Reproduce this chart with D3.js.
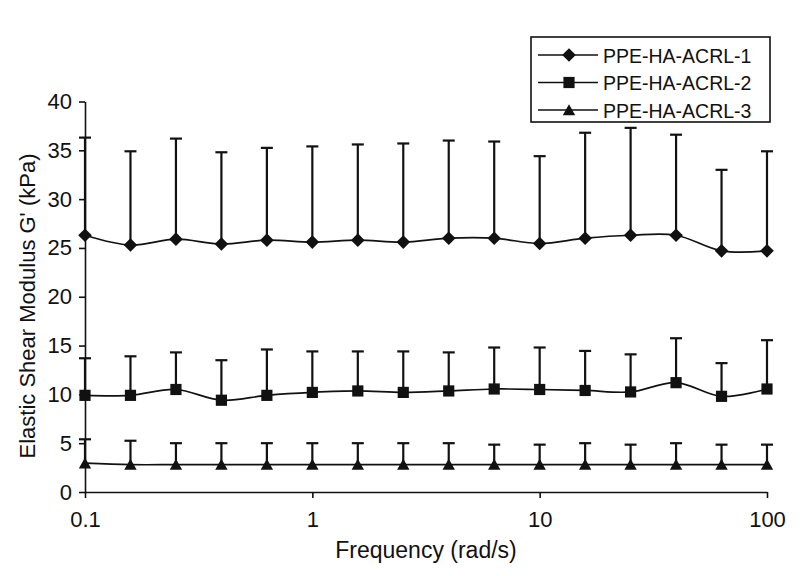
<!DOCTYPE html>
<html>
<head>
<meta charset="utf-8">
<script src="https://cdn.jsdelivr.net/npm/d3@7/dist/d3.min.js"></script>
<style>
  html, body { margin: 0; padding: 0; background: #fff; }
  svg { display: block; font-family: "Liberation Sans", Arial, sans-serif; }
</style>
</head>
<body>
<svg id="chart" width="800" height="576"></svg>
<script>
// ---- data ----
const frequencies = [0.1, 0.1585, 0.2512, 0.3981, 0.631, 1, 1.585, 2.512, 3.981, 6.31, 10, 15.85, 25.12, 39.81, 63.1, 100];
const seriesNames = ["PPE-HA-ACRL-1", "PPE-HA-ACRL-2", "PPE-HA-ACRL-3"];
const acrl1 = [26.3, 25.3, 25.9, 25.4, 25.8, 25.6, 25.8, 25.6, 26.0, 26.0, 25.45, 26.0, 26.3, 26.3, 24.7, 24.7];
const acrl1Err = [10.0, 9.6, 10.3, 9.4, 9.45, 9.8, 9.8, 10.1, 10.0, 9.9, 8.95, 10.8, 11.0, 10.3, 8.3, 10.2];
const acrl2 = [9.9, 9.9, 10.5, 9.4, 9.9, 10.2, 10.35, 10.2, 10.35, 10.55, 10.5, 10.4, 10.25, 11.2, 9.8, 10.55];
const acrl2Err = [3.8, 4.0, 3.8, 4.1, 4.7, 4.2, 4.05, 4.2, 3.95, 4.25, 4.3, 4.05, 3.85, 4.55, 3.4, 5.0];
const acrl3 = [2.95, 2.8, 2.8, 2.8, 2.8, 2.8, 2.8, 2.8, 2.8, 2.8, 2.8, 2.8, 2.8, 2.8, 2.8, 2.8];
const acrl3Err = [2.45, 2.45, 2.2, 2.2, 2.2, 2.2, 2.2, 2.2, 2.2, 2.05, 2.05, 2.2, 2.05, 2.2, 2.05, 2.05];
const xTickValues = [0.1, 1, 10, 100];
const xTickLabels = ["0.1", "1", "10", "100"];
const yTickValues = [0, 5, 10, 15, 20, 25, 30, 35, 40];
const markerTypes = ["diamond", "square", "triangle"];

const series = [
  { name: seriesNames[0], values: acrl1, errs: acrl1Err, marker: markerTypes[0] },
  { name: seriesNames[1], values: acrl2, errs: acrl2Err, marker: markerTypes[1] },
  { name: seriesNames[2], values: acrl3, errs: acrl3Err, marker: markerTypes[2] }
];

// ---- layout ----
const svg = d3.select("#chart");
const x = d3.scaleLog().domain([0.1, 100]).range([85, 767]);
const y = d3.scaleLinear().domain([0, 40]).range([492, 101.5]);
const ink = "#111";

function markerPath(type) {
  if (type === "diamond") return "M0,-6.8L6.8,0L0,6.8L-6.8,0Z";
  if (type === "square") return "M-5.6,-5.6H5.6V5.6H-5.6Z";
  return "M0,-5.8L6.2,5.2L-6.2,5.2Z";
}

// axes
const yAxis = svg.append("g")
  .attr("transform", `translate(${x(0.1)},0)`)
  .call(d3.axisLeft(y).tickValues(yTickValues).tickSize(6).tickSizeOuter(0).tickPadding(7));
const xAxis = svg.append("g")
  .attr("transform", `translate(0,${y(0)})`)
  .call(d3.axisBottom(x).tickValues(xTickValues).tickFormat((d, i) => xTickLabels[i])
    .tickSize(6).tickSizeOuter(0).tickPadding(13));
[yAxis, xAxis].forEach(g => {
  g.select(".domain").attr("stroke", ink).attr("stroke-width", 1.6);
  g.selectAll(".tick line").attr("stroke", ink).attr("stroke-width", 1.6);
  g.selectAll(".tick text").attr("fill", ink).style("font-size", "22px");
});

// axis titles
svg.append("text")
  .attr("x", x(Math.sqrt(10)))
  .attr("y", 558)
  .attr("text-anchor", "middle")
  .attr("fill", ink)
  .style("font-size", "23px")
  .text("Frequency (rad/s)");
svg.append("text")
  .attr("transform", "translate(35,306) rotate(-90)")
  .attr("text-anchor", "middle")
  .attr("fill", ink)
  .style("font-size", "22px")
  .text("Elastic Shear Modulus G' (kPa)");

// series
const line = d3.line()
  .x((d, i) => x(frequencies[i]))
  .y(d => y(d))
  .curve(d3.curveCardinal.tension(0));

series.forEach(s => {
  const g = svg.append("g");
  g.append("path")
    .attr("d", line(s.values))
    .attr("fill", "none")
    .attr("stroke", ink)
    .attr("stroke-width", 1.7);
  const eb = g.selectAll(".eb").data(s.values).enter().append("g");
  eb.append("line")
    .attr("x1", (d, i) => x(frequencies[i]))
    .attr("x2", (d, i) => x(frequencies[i]))
    .attr("y1", d => y(d))
    .attr("y2", (d, i) => y(d + s.errs[i]))
    .attr("stroke", ink).attr("stroke-width", 2.2);
  eb.append("line")
    .attr("x1", (d, i) => x(frequencies[i]) - 6)
    .attr("x2", (d, i) => x(frequencies[i]) + 6)
    .attr("y1", (d, i) => y(d + s.errs[i]))
    .attr("y2", (d, i) => y(d + s.errs[i]))
    .attr("stroke", ink).attr("stroke-width", 2.2);
  g.selectAll(".mk").data(s.values).enter().append("path")
    .attr("transform", (d, i) => `translate(${x(frequencies[i])},${y(d)})`)
    .attr("d", markerPath(s.marker))
    .attr("fill", ink);
});

// legend
const legend = svg.append("g");
legend.append("rect")
  .attr("x", 531).attr("y", 37).attr("width", 239).attr("height", 85)
  .attr("fill", "#fff").attr("stroke", ink).attr("stroke-width", 1.6);
const rowY = [55, 82.5, 110];
series.forEach((s, i) => {
  legend.append("line")
    .attr("x1", 538).attr("x2", 598).attr("y1", rowY[i]).attr("y2", rowY[i])
    .attr("stroke", ink).attr("stroke-width", 1.7);
  legend.append("path")
    .attr("transform", `translate(569,${rowY[i]})`)
    .attr("d", markerPath(s.marker))
    .attr("fill", ink);
  legend.append("text")
    .attr("x", 603).attr("y", rowY[i] + 7.5)
    .attr("fill", ink)
    .style("font-size", "19.5px")
    .text(s.name);
});
</script>
</body>
</html>
